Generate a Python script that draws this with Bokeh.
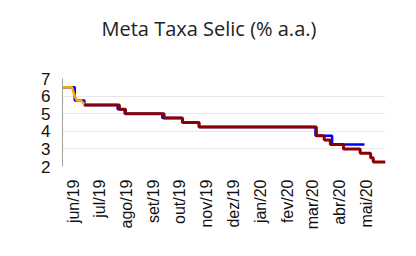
import math
import pandas as pd
from bokeh.plotting import figure
from bokeh.models import Range1d, FixedTicker, Title
from bokeh.embed import file_html
from bokeh.resources import INLINE

chart_title = "Meta Taxa Selic (% a.a.)"

month_starts = ["2019-06-01", "2019-07-01", "2019-08-01", "2019-09-01", "2019-10-01", "2019-11-01",
                "2019-12-01", "2020-01-01", "2020-02-01", "2020-03-01", "2020-04-01", "2020-05-01"]
month_labels = ["jun/19", "jul/19", "ago/19", "set/19", "out/19", "nov/19",
                "dez/19", "jan/20", "fev/20", "mar/20", "abr/20", "mai/20"]
y_ticks = [2, 3, 4, 5, 6, 7]

# blue series (step)
blue_dates = ["2019-05-20", "2019-06-03", "2019-06-14", "2019-07-22", "2019-07-30", "2019-09-11",
              "2019-10-04", "2019-10-23", "2020-03-04", "2020-03-23", "2020-04-29"]
blue_values = [6.5, 5.75, 5.5, 5.25, 5.0, 4.75, 4.5, 4.25, 3.75, 3.25, 3.25]

# orange series
orange_dates = ["2019-05-20", "2019-05-31", "2019-06-03", "2019-06-05", "2019-06-07", "2019-06-09",
                "2019-06-11", "2019-06-13", "2019-06-14"]
orange_values = [6.5, 6.5, 6.0, 5.8, 5.7, 5.8, 5.7, 5.6, 5.5]

# dark red series (step)
red_dates = ["2019-06-14", "2019-07-24", "2019-07-31", "2019-09-13", "2019-10-04", "2019-10-23",
             "2020-03-05", "2020-03-14", "2020-03-21", "2020-04-05", "2020-04-24", "2020-05-06",
             "2020-05-09", "2020-05-23"]
red_values = [5.5, 5.25, 5.0, 4.75, 4.5, 4.25, 3.75, 3.5, 3.25, 3.0, 2.75, 2.5, 2.25, 2.25]

to_dt = lambda lst: pd.to_datetime(lst)

p = figure(width=400, height=240, x_axis_type="datetime", output_backend="svg",
           toolbar_location=None,
           x_range=Range1d(pd.Timestamp("2019-05-20"), pd.Timestamp("2020-05-23")),
           y_range=Range1d(2, 7),
           min_border_left=62, min_border_right=15, min_border_top=78, min_border_bottom=74)

# invisible spacer between the frame and the title
p.add_layout(Title(text=" ", text_font_size="10px", standoff=24), "above")

p.title.text = chart_title
p.title.text_font = "Open Sans"
p.title.text_font_size = "20px"
p.title.text_font_style = "normal"
p.title.text_color = "#222222"
p.title.align = "left"
p.title.offset = 39
p.title.standoff = 0

p.outline_line_color = None
p.background_fill_color = "white"
p.border_fill_color = "white"

p.xgrid.grid_line_color = None
p.ygrid.grid_line_color = "#e8e8e8"
p.ygrid.grid_line_width = 1

p.yaxis.ticker = FixedTicker(ticks=y_ticks)
p.yaxis.major_label_text_font = "Liberation Sans"
p.yaxis.major_label_text_font_size = "17px"
p.yaxis.major_label_text_color = "#111111"
p.yaxis.axis_line_color = "#a0a0a0"
p.yaxis.major_tick_line_color = None
p.yaxis.minor_tick_line_color = None
p.yaxis.major_label_standoff = 6

tick_ms = [int(pd.Timestamp(d).value // 10**6) for d in month_starts]
p.xaxis.ticker = FixedTicker(ticks=tick_ms)
p.xaxis.major_label_overrides = {t: l for t, l in zip(tick_ms, month_labels)}
p.xaxis.major_label_orientation = math.pi / 2
p.xaxis.major_label_text_font = "Liberation Sans"
p.xaxis.major_label_text_font_size = "16px"
p.xaxis.major_label_text_color = "#111111"
p.xaxis.axis_line_color = None
p.xaxis.major_tick_line_color = None
p.xaxis.minor_tick_line_color = None
p.xaxis.major_label_standoff = 7

p.step(to_dt(blue_dates), blue_values, mode="after", line_color="#0000ff", line_width=2.5)
p.line(to_dt(orange_dates), orange_values, line_color="#ffa500", line_width=2.5)
p.step(to_dt(red_dates), red_values, mode="after", line_color="#8b0000", line_width=3)

open("out.html", "w").write(file_html(p, INLINE))
